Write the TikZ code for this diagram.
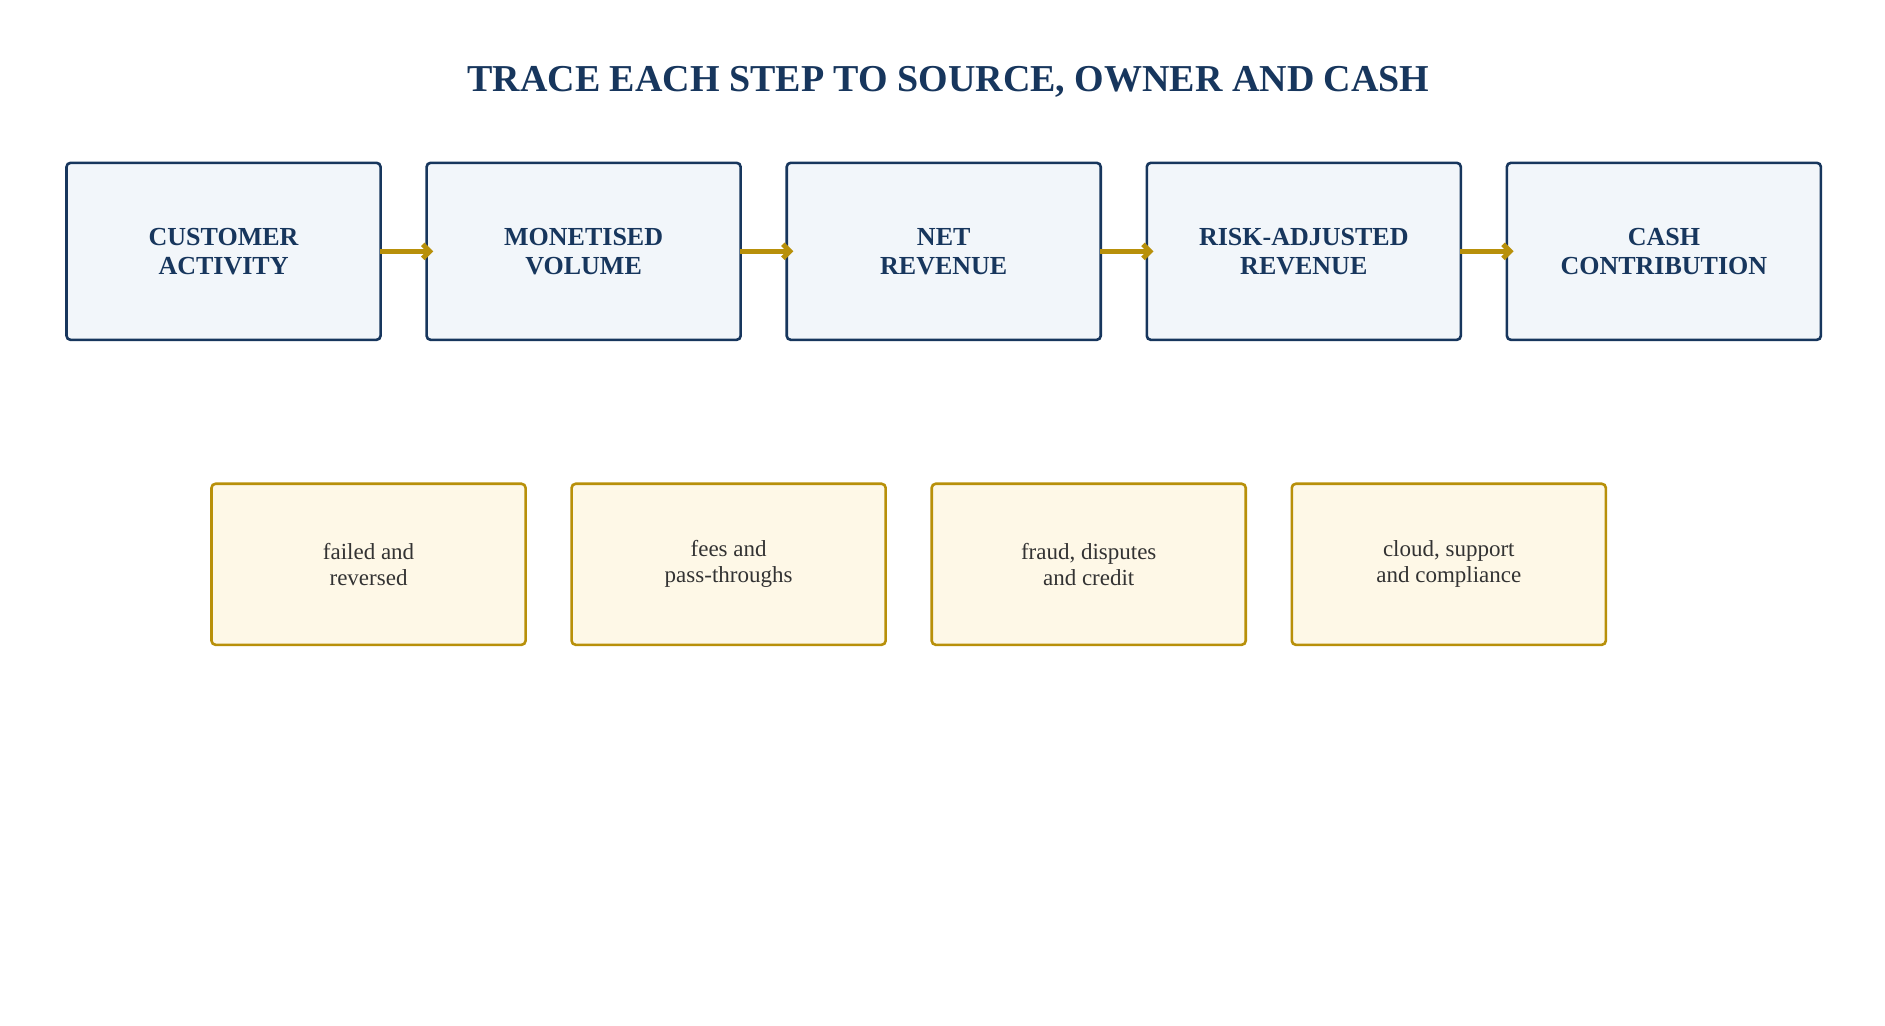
\documentclass[tikz,border=0pt]{standalone}
\usepackage{fontspec}
\setmainfont{Liberation Serif}
\usetikzlibrary{arrows.meta}
\definecolor{navy}{HTML}{17365D}
\definecolor{gold}{HTML}{B8900A}
\definecolor{paleblue}{HTML}{F2F6FA}
\definecolor{palegold}{HTML}{FEF8E7}
\definecolor{ink}{HTML}{333333}
\tikzset{
  stage/.style={draw=navy, fill=paleblue, line width=2.6pt, rounded corners=4pt,
    minimum width=314pt, minimum height=177pt, align=center, text=navy,
    font=\fontsize{26}{29}\selectfont\bfseries},
  leak/.style={draw=gold, fill=palegold, line width=2.6pt, rounded corners=4pt,
    minimum width=314pt, minimum height=161pt, align=center, text=ink,
    font=\fontsize{23}{26}\selectfont},
  flow/.style={draw=gold, line width=5pt, -{Straight Barb[length=7pt,width=14pt]}}
}
\begin{document}
\begin{tikzpicture}[x=1.2083pt,y=-1.2083pt]
\useasboundingbox[fill=white] (0,0) rectangle (1560,849);
\node[text=navy, font=\fontsize{38}{42}\selectfont\bfseries] (title) at (785,68) {TRACE EACH STEP TO SOURCE, OWNER AND CASH};
% the steps
\node[stage] (s1) at (185,208) {CUSTOMER\\ACTIVITY};
\node[stage] (s2) at (483,208) {MONETISED\\VOLUME};
\node[stage] (s3) at (781,208) {NET\\REVENUE};
\node[stage] (s4) at (1079,208) {RISK-ADJUSTED\\REVENUE};
\node[stage] (s5) at (1377,208) {CASH\\CONTRIBUTION};
\foreach \a/\b in {s1/s2,s2/s3,s3/s4,s4/s5}
  \draw[flow] ([xshift=-2pt]\a.east) -- ([xshift=8pt]\a.east -| \b.west);
% the leakages
\node[leak] (l1) at (305,467) {failed and\\reversed};
\node[leak] (l2) at (603,467) {fees and\\pass-throughs};
\node[leak] (l3) at (901,467) {fraud, disputes\\and credit};
\node[leak] (l4) at (1199,467) {cloud, support\\and compliance};
\end{tikzpicture}
\end{document}
